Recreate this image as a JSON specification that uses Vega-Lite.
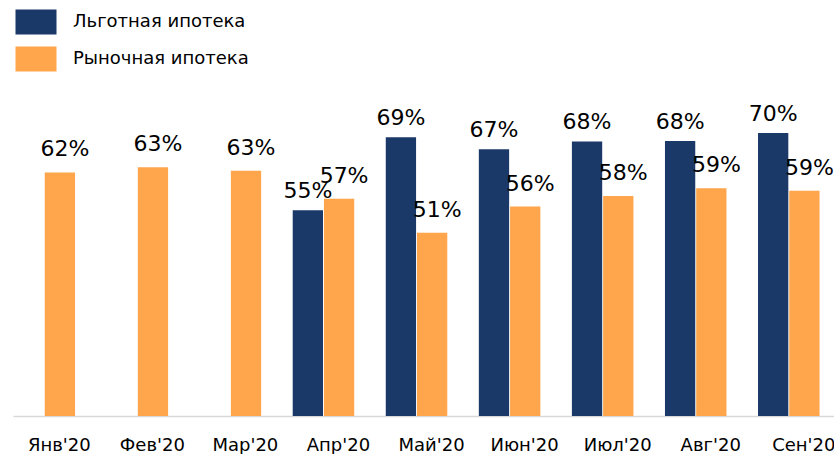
{
  "$schema": "https://vega.github.io/schema/vega-lite/v6.json",
  "width": 821,
  "height": 336,
  "autosize": "none",
  "padding": {"left": 13, "top": 80, "right": 0, "bottom": 38},
  "background": "white",
  "config": {"view": {"stroke": null}, "font": "DejaVu Sans"},
  "data": {
    "values": [
      {"month": "Янв'20", "series": "Рыночная ипотека", "value": 0.624},
      {"month": "Фев'20", "series": "Рыночная ипотека", "value": 0.634},
      {"month": "Мар'20", "series": "Рыночная ипотека", "value": 0.627},
      {"month": "Апр'20", "series": "Льготная ипотека", "value": 0.552},
      {"month": "Апр'20", "series": "Рыночная ипотека", "value": 0.574},
      {"month": "Май'20", "series": "Льготная ипотека", "value": 0.691},
      {"month": "Май'20", "series": "Рыночная ипотека", "value": 0.509},
      {"month": "Июн'20", "series": "Льготная ипотека", "value": 0.668},
      {"month": "Июн'20", "series": "Рыночная ипотека", "value": 0.559},
      {"month": "Июл'20", "series": "Льготная ипотека", "value": 0.683},
      {"month": "Июл'20", "series": "Рыночная ипотека", "value": 0.579},
      {"month": "Авг'20", "series": "Льготная ипотека", "value": 0.684},
      {"month": "Авг'20", "series": "Рыночная ипотека", "value": 0.594},
      {"month": "Сен'20", "series": "Льготная ипотека", "value": 0.699},
      {"month": "Сен'20", "series": "Рыночная ипотека", "value": 0.589}
    ]
  },
  "encoding": {
    "x": {
      "field": "month",
      "type": "nominal",
      "sort": ["Янв'20", "Фев'20", "Мар'20", "Апр'20", "Май'20", "Июн'20", "Июл'20", "Авг'20", "Сен'20"],
      "scale": {"paddingInner": 0.339, "paddingOuter": 0.0805, "align": 0.035},
      "axis": {
        "title": null,
        "ticks": false,
        "labelAngle": 0,
        "labelAlign": "center",
        "labelFontSize": 18,
        "labelColor": "#000000",
        "labelOffset": 15,
        "labelBaseline": "alphabetic",
        "labelPadding": 34,
        "domainColor": "#d9d9d9",
        "domainWidth": 1.5,
        "grid": false
      }
    },
    "xOffset": {
      "field": "series",
      "type": "nominal",
      "scale": {"domain": ["Льготная ипотека", "Рыночная ипотека"], "paddingInner": 0.03}
    },
    "y": {
      "field": "value",
      "type": "quantitative",
      "scale": {"domain": [0.16, 0.8], "zero": false, "clamp": true},
      "axis": null
    }
  },
  "layer": [
    {
      "mark": {"type": "bar", "clip": true},
      "encoding": {
        "color": {
          "field": "series",
          "type": "nominal",
          "scale": {"domain": ["Льготная ипотека", "Рыночная ипотека"], "range": ["#1A3868", "#FFA54C"]},
          "legend": {
            "title": null,
            "orient": "none",
            "legendX": 10.5,
            "legendY": -70.5,
            "padding": 0,
            "symbolType": "M-1.64,-1H1.64V1H-1.64Z",
            "symbolSize": 625,
            "symbolStrokeWidth": 0,
            "symbolOpacity": 1,
            "labelOffset": 24.5,
            "rowPadding": 12,
            "labelFontSize": 18,
            "labelColor": "#000000",
            "labelLimit": 400
          }
        }
      }
    },
    {
      "transform": [{"filter": "datum.series === 'Льготная ипотека'"}],
      "mark": {"type": "text", "baseline": "alphabetic", "dy": -12, "dx": 0, "fontSize": 22, "color": "#000000"},
      "encoding": {
        "text": {"field": "value", "type": "quantitative", "format": ".0%"}
      }
    },
    {
      "transform": [{"filter": "datum.series === 'Рыночная ипотека'"}],
      "mark": {"type": "text", "baseline": "alphabetic", "dy": -16, "dx": 5, "fontSize": 22, "color": "#000000"},
      "encoding": {
        "text": {"field": "value", "type": "quantitative", "format": ".0%"}
      }
    }
  ]
}
